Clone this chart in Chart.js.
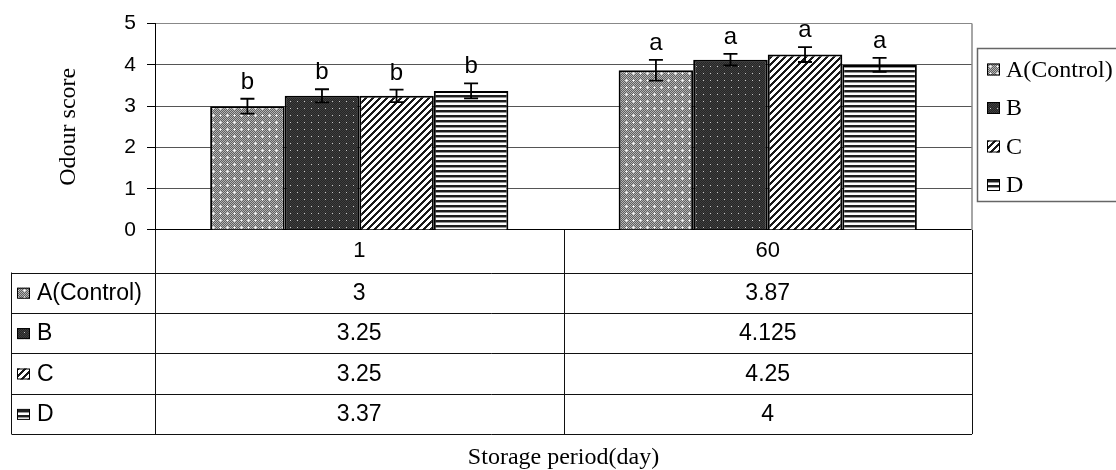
<!DOCTYPE html>
<html>
<head>
<meta charset="utf-8">
<script src="https://cdn.jsdelivr.net/npm/chart.js@4.4.0/dist/chart.umd.min.js"></script>
<style>
html, body { margin: 0; padding: 0; background: #fff; }
#wrap { width: 1116px; height: 470px; }
</style>
</head>
<body>
<div id="wrap"><canvas id="odourChart" width="1116" height="470"></canvas></div>
<script>
// data
const days = ['1', '60'];
const groupNames = ['A(Control)', 'B', 'C', 'D'];
const scoreA = [3, 3.87];
const scoreB = [3.25, 4.125];
const scoreC = [3.25, 4.25];
const scoreD = [3.37, 4];
const errA = [0.18, 0.25];
const errB = [0.16, 0.14];
const errC = [0.15, 0.18];
const errD = [0.18, 0.17];
const lettersA = ['b', 'a'];
const lettersB = ['b', 'a'];
const lettersC = ['b', 'a'];
const lettersD = ['b', 'a'];

const SANS = '"Liberation Sans", Arial, sans-serif';
const SERIF = '"Liberation Serif", "Times New Roman", serif';

let canvas = document.getElementById('odourChart');
let ctx0 = canvas.getContext('2d');

// pattern tiles, grey value per pixel
function makeTile(w, h, paint) {
  let c = document.createElement('canvas');
  c.width = w; c.height = h;
  let g = c.getContext('2d');
  let img = g.createImageData(w, h);
  for (let y = 0; y < h; y++) {
    for (let x = 0; x < w; x++) {
      let v = paint(x, y);
      let i = (y * w + x) * 4;
      img.data[i] = img.data[i + 1] = img.data[i + 2] = v;
      img.data[i + 3] = 255;
    }
  }
  g.putImageData(img, 0, 0);
  return ctx0.createPattern(c, 'repeat');
}

// A : grey halftone with little white crosses
let patA = makeTile(14, 14, (x, y) => {
  let px = x % 7, py = y % 7;
  if (px === 3 && py === 3) return 255;
  if ((px === 3 && (py === 2 || py === 4)) || (py === 3 && (px === 2 || px === 4))) return 220;
  return (x + y) % 2 ? 95 : 180;
});
// B : dark with sparse light dots
let patB = makeTile(14, 14, (x, y) => {
  let px = x % 7, py = y % 7;
  if (px === 3 && py === 3) return 200;
  return (x + y) % 2 ? 38 : 62;
});
// C : diagonal stripes
let patC = makeTile(7, 7, (x, y) => ((x + y) % 7) < 3 ? 25 : 255);
// D : horizontal stripes
let patD = makeTile(4, 5, (x, y) => y < 2 ? 30 : (y === 2 ? 150 : 255));

const patterns = [patA, patB, patC, patD];

const extras = {
  id: 'extras',
  afterDatasetsDraw(chart) {
    const {ctx, scales: {y}} = chart;
    ctx.save();
    chart.data.datasets.forEach((ds, di) => {
      let meta = chart.getDatasetMeta(di);
      meta.data.forEach((bar, i) => {
        let v = ds.data[i], e = ds.err[i];
        let yt = y.getPixelForValue(v + e);
        let yb = y.getPixelForValue(v - e);
        let bx = bar.x;
        ctx.strokeStyle = '#000';
        ctx.lineWidth = 1.8;
        ctx.beginPath();
        ctx.moveTo(bx, yt); ctx.lineTo(bx, yb);
        ctx.moveTo(bx - 7, yt); ctx.lineTo(bx + 7, yt);
        ctx.moveTo(bx - 7, yb); ctx.lineTo(bx + 7, yb);
        ctx.stroke();
        // significance letter
        ctx.fillStyle = '#000';
        ctx.font = '24px ' + SANS;
        ctx.textAlign = 'center';
        ctx.textBaseline = 'alphabetic';
        ctx.fillText(ds.letters[i], bx, yt - 10);
      });
    });
    ctx.restore();
  },
  afterDraw(chart) {
    const {ctx, chartArea: ca, scales: {x}} = chart;
    ctx.save();
    // plot area grey border on the right
    ctx.strokeStyle = '#888';
    ctx.lineWidth = 1.5;
    ctx.beginPath();
    ctx.moveTo(ca.right, ca.top); ctx.lineTo(ca.right, ca.bottom);
    ctx.stroke();

    // data table below the axis
    let catRowH = 42.5, rowH = 40.4;
    let tableLeft = 11.5;
    let rowTop = ca.bottom + catRowH;
    let tableBottom = rowTop + rowH * groupNames.length;
    let cw = (x.right - x.left) / days.length;

    ctx.strokeStyle = '#111';
    ctx.lineWidth = 1;
    ctx.beginPath();
    for (let k = 0; k <= days.length; k++) {
      let vx = Math.round(x.left + cw * k) + 0.5;
      ctx.moveTo(vx, ca.bottom); ctx.lineTo(vx, tableBottom);
    }
    ctx.moveTo(tableLeft, rowTop); ctx.lineTo(tableLeft, tableBottom);
    for (let r = 0; r <= groupNames.length; r++) {
      let hy = Math.round(rowTop + rowH * r) + 0.5;
      ctx.moveTo(tableLeft, hy); ctx.lineTo(x.right, hy);
    }
    ctx.stroke();

    ctx.font = '23px ' + SANS;
    ctx.textBaseline = 'middle';
    chart.data.datasets.forEach((ds, di) => {
      let cy = rowTop + rowH * di + rowH / 2 + 1;
      // swatch + name
      ctx.fillStyle = patterns[di];
      ctx.fillRect(17, cy - 6, 13, 11);
      ctx.strokeStyle = '#000';
      ctx.lineWidth = 1;
      ctx.strokeRect(17.5, cy - 5.5, 12, 10);
      ctx.fillStyle = '#000';
      ctx.textAlign = 'left';
      ctx.fillText(ds.label, 37, cy);
      ctx.textAlign = 'center';
      ds.data.forEach((v, i) => {
        ctx.fillText(String(v), x.getPixelForValue(i), cy);
      });
    });

    // legend on the right
    let lx = 977.5, ly = 48.5;
    ctx.strokeStyle = '#666';
    ctx.lineWidth = 1.5;
    ctx.strokeRect(lx, ly, 1116 - lx + 2, 153);
    ctx.font = '24px ' + SERIF;
    ctx.textAlign = 'left';
    ctx.textBaseline = 'middle';
    chart.data.datasets.forEach((ds, di) => {
      let cy = 69.5 + di * 38.5;
      ctx.fillStyle = patterns[di];
      ctx.fillRect(987, cy - 6, 13, 12);
      ctx.strokeStyle = '#000';
      ctx.lineWidth = 1;
      ctx.strokeRect(987.5, cy - 5.5, 12, 11);
      ctx.fillStyle = '#000';
      ctx.fillText(ds.label, 1006, cy + 1);
    });
    ctx.restore();
  }
};

function makeSet(i, data, err, letters) {
  return {
    label: groupNames[i],
    data: data,
    err: err,
    letters: letters,
    backgroundColor: patterns[i],
    borderColor: '#000',
    borderWidth: 2
  };
}

const config = {
  type: 'bar',
  data: {
    labels: days,
    datasets: [
      makeSet(0, scoreA, errA, lettersA),
      makeSet(1, scoreB, errB, lettersB),
      makeSet(2, scoreC, errC, lettersC),
      makeSet(3, scoreD, errD, lettersD)
    ]
  },
  options: {
    responsive: false,
    animation: false,
    layout: { padding: { left: 0, top: 23, right: 144, bottom: 0 } },
    datasets: { bar: { categoryPercentage: 0.73, barPercentage: 1 } },
    plugins: {
      legend: { display: false },
      tooltip: { enabled: false }
    },
    scales: {
      x: {
        grid: { display: false, drawTicks: false },
        border: { display: false },
        ticks: { color: '#000', font: { family: SANS, size: 22 }, padding: 8 },
        title: {
          display: true,
          text: 'Storage period(day)',
          color: '#000',
          font: { family: SERIF, size: 24, lineHeight: 1 },
          padding: 0
        },
        afterFit: s => { s.height = 240; }
      },
      y: {
        min: 0,
        max: 5,
        ticks: { stepSize: 1, color: '#000', font: { family: SANS, size: 21 }, padding: 11 },
        grid: {
          color: c => c.tick.value === 0 ? '#000' : (c.tick.value === 5 ? '#888' : '#555'),
          tickColor: '#000',
          tickLength: 8
        },
        border: { display: true, color: '#000', width: 1 },
        title: {
          display: true,
          text: 'Odour score',
          color: '#000',
          font: { family: SERIF, size: 24 },
          padding: { top: 54, bottom: 0 }
        },
        afterFit: s => { s.width = 155; }
      }
    }
  },
  plugins: [extras]
};

const odourChart = new Chart(canvas, config);
</script>
</body>
</html>
